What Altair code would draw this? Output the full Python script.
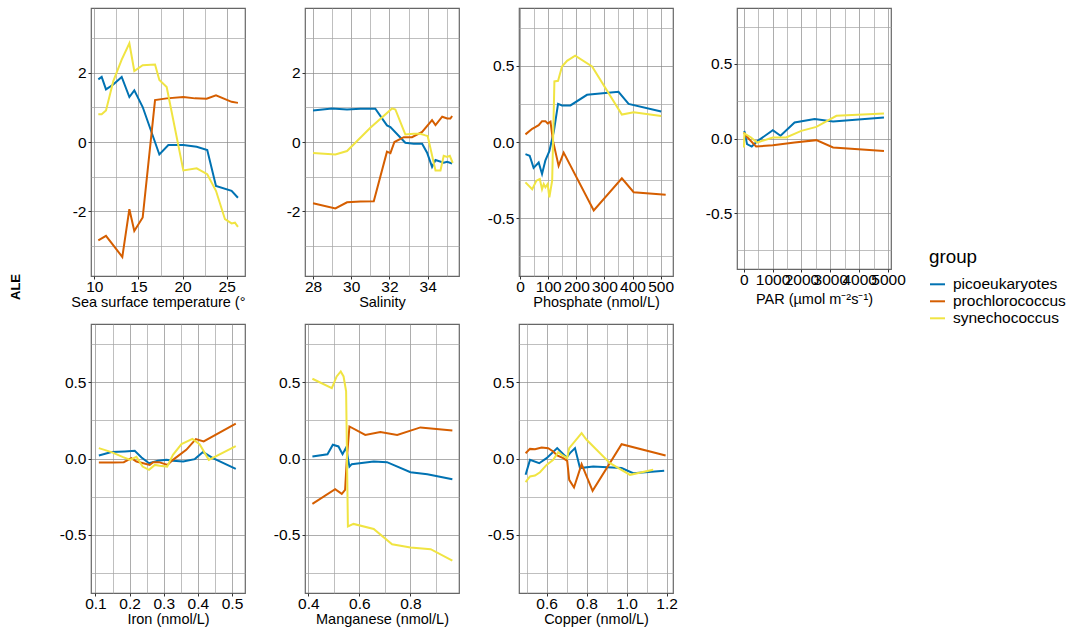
import altair as alt
import pandas as pd

GROUPS = ["picoeukaryotes", "prochlorococcus", "synechococcus"]
COLORS = ["#0072B2", "#D55E00", "#F0E442"]
FONT = "Liberation Sans"

# ---------------- data ----------------
# Sea surface temperature
sst_pico_x = [10.45, 10.83, 11.32, 12.15, 13.10, 13.97, 14.53, 15.48, 17.37, 18.39, 20.09, 21.60, 22.80, 23.79, 25.56, 26.28]
sst_pico_y = [1.81, 1.88, 1.52, 1.66, 1.88, 1.30, 1.49, 1.01, -0.36, -0.09, -0.09, -0.14, -0.23, -1.27, -1.41, -1.61]
sst_pro_x = [10.45, 11.32, 13.17, 13.97, 14.53, 15.48, 16.88, 18.20, 20.09, 21.41, 22.73, 23.79, 25.56, 26.28]
sst_pro_y = [-2.84, -2.71, -3.32, -1.94, -2.57, -2.18, 1.21, 1.26, 1.30, 1.26, 1.25, 1.35, 1.16, 1.13]
sst_syn_x = [10.45, 10.83, 11.32, 12.15, 13.10, 13.97, 14.53, 15.48, 16.88, 17.37, 18.20, 20.09, 21.60, 22.80, 23.79, 24.81, 25.56, 25.94, 26.28]
sst_syn_y = [0.80, 0.80, 0.91, 1.76, 2.38, 2.85, 2.05, 2.22, 2.24, 1.79, 1.59, -0.82, -0.76, -0.93, -1.41, -2.23, -2.35, -2.33, -2.45]

# Salinity
sal_pico_x = [28.0, 28.99, 29.78, 30.48, 31.26, 31.87, 32.05, 32.83, 33.27, 33.71, 33.97, 34.23, 34.41, 34.84, 35.02, 35.28]
sal_pico_y = [0.91, 0.97, 0.94, 0.96, 0.96, 0.48, 0.43, -0.02, -0.05, -0.05, -0.31, -0.72, -0.52, -0.60, -0.57, -0.62]
sal_pro_x = [28.0, 29.17, 29.78, 30.48, 31.18, 31.87, 32.05, 32.26, 32.75, 33.18, 33.71, 34.23, 34.41, 34.76, 35.02, 35.19, 35.28]
sal_pro_y = [-1.77, -1.92, -1.74, -1.72, -1.71, -0.28, -0.32, 0.00, 0.14, 0.14, 0.29, 0.63, 0.49, 0.73, 0.68, 0.68, 0.75]
sal_syn_x = [28.0, 29.17, 29.78, 31.0, 32.14, 32.31, 32.83, 33.27, 33.62, 33.88, 34.0, 34.41, 34.67, 34.84, 35.02, 35.16, 35.31]
sal_syn_y = [-0.32, -0.36, -0.26, 0.41, 0.97, 0.94, 0.22, 0.24, 0.24, 0.19, 0.17, -0.82, -0.82, -0.40, -0.43, -0.40, -0.60]

# Phosphate
pho_pico_x = [19, 34, 48, 66, 78, 90, 104, 120, 135, 149, 179, 238, 350, 386, 502]
pho_pico_y = [-0.08, -0.09, -0.17, -0.135, -0.21, -0.12, -0.06, 0.07, 0.25, 0.24, 0.24, 0.31, 0.33, 0.25, 0.20]
pho_pro_x = [19, 43, 54, 66, 78, 90, 98, 108, 117, 137, 155, 262, 362, 404, 518]
pho_pro_y = [0.05, 0.087, 0.098, 0.111, 0.137, 0.137, 0.122, 0.133, 0.007, -0.157, -0.07, -0.45, -0.239, -0.33, -0.346]
pho_syn_x = [19, 43, 58, 70, 78, 84, 90, 98, 104, 114, 122, 135, 149, 167, 196, 256, 362, 404, 502]
pho_syn_y = [-0.265, -0.31, -0.254, -0.243, -0.31, -0.276, -0.298, -0.276, -0.363, -0.254, 0.398, 0.402, 0.496, 0.533, 0.567, 0.496, 0.18, 0.196, 0.17]

# PAR
par_pico_x = [23, 116, 278, 487, 1009, 1276, 1763, 2459, 3097, 4860]
par_pico_y = [0.051, -0.038, -0.054, -0.016, 0.056, 0.018, 0.107, 0.13, 0.114, 0.141]
par_pro_x = [10, 81, 429, 1009, 1763, 2517, 3097, 4860]
par_pro_y = [0.04, 0.018, -0.054, -0.045, -0.027, -0.011, -0.06, -0.083]
par_syn_x = [10, 23, 255, 464, 1009, 1473, 1995, 2517, 3213, 4860]
par_syn_y = [-0.06, 0.034, 0.007, -0.027, 0.007, 0.007, 0.051, 0.078, 0.152, 0.168]

# Iron
fe_pico_x = [0.110, 0.147, 0.186, 0.215, 0.235, 0.257, 0.283, 0.308, 0.327, 0.357, 0.391, 0.415, 0.444, 0.511]
fe_pico_y = [0.02, 0.042, 0.046, 0.05, 0.007, -0.031, -0.015, -0.009, -0.015, -0.02, -0.004, 0.042, 0.002, -0.068]
fe_pro_x = [0.110, 0.152, 0.183, 0.205, 0.220, 0.240, 0.259, 0.269, 0.286, 0.311, 0.327, 0.366, 0.394, 0.417, 0.511]
fe_pro_y = [-0.026, -0.026, -0.024, 0.002, -0.02, -0.031, -0.042, -0.024, -0.024, -0.042, -0.009, 0.057, 0.127, 0.112, 0.228]
fe_syn_x = [0.110, 0.147, 0.181, 0.202, 0.220, 0.238, 0.257, 0.274, 0.288, 0.310, 0.327, 0.352, 0.384, 0.405, 0.432, 0.511]
fe_syn_y = [0.068, 0.042, 0.009, -0.009, 0.011, -0.053, -0.074, -0.042, -0.048, -0.053, 0.024, 0.094, 0.129, 0.094, -0.009, 0.081]

# Manganese
mn_pico_x = [0.416, 0.475, 0.496, 0.518, 0.534, 0.548, 0.555, 0.561, 0.570, 0.656, 0.708, 0.800, 0.866, 0.964]
mn_pico_y = [0.013, 0.028, 0.09, 0.079, 0.028, 0.072, 0.002, -0.053, -0.037, -0.02, -0.024, -0.09, -0.103, -0.136]
mn_pro_x = [0.416, 0.505, 0.531, 0.544, 0.551, 0.561, 0.623, 0.682, 0.748, 0.839, 0.964]
mn_pro_y = [-0.298, -0.201, -0.232, -0.206, 0.002, 0.21, 0.155, 0.173, 0.155, 0.204, 0.184]
mn_syn_x = [0.416, 0.492, 0.511, 0.527, 0.538, 0.548, 0.555, 0.577, 0.656, 0.728, 0.800, 0.879, 0.964]
mn_syn_y = [0.523, 0.462, 0.538, 0.571, 0.538, 0.44, -0.446, -0.429, -0.462, -0.562, -0.584, -0.595, -0.67]

# Copper
cu_pico_x = [0.495, 0.517, 0.563, 0.600, 0.653, 0.700, 0.717, 0.742, 0.767, 0.833, 0.975, 1.033, 1.188]
cu_pico_y = [-0.107, -0.009, -0.031, 0.002, 0.068, 0.007, 0.035, 0.068, -0.063, -0.053, -0.063, -0.096, -0.081]
cu_pro_x = [0.495, 0.517, 0.542, 0.575, 0.608, 0.633, 0.653, 0.683, 0.703, 0.713, 0.737, 0.775, 0.830, 0.975, 1.195]
cu_pro_y = [0.035, 0.063, 0.061, 0.072, 0.068, 0.046, 0.02, 0.002, -0.015, -0.14, -0.19, -0.037, -0.212, 0.094, 0.02]
cu_syn_x = [0.495, 0.517, 0.542, 0.567, 0.600, 0.633, 0.658, 0.680, 0.703, 0.713, 0.775, 0.800, 0.917, 1.017, 1.133]
cu_syn_y = [-0.155, -0.118, -0.112, -0.09, -0.042, -0.009, 0.042, 0.02, 0.002, 0.068, 0.166, 0.123, -0.031, -0.107, -0.074]

# axis titles and tick values
x_titles = ["Sea surface temperature (°", "Salinity", "Phosphate (nmol/L)",
            "PAR (µmol m⁻²s⁻¹)", "Iron (nmol/L)", "Manganese (nmol/L)", "Copper (nmol/L)"]
x_ticks = [
    [10, 12.5, 15, 17.5, 20, 22.5, 25],
    [28, 29, 30, 31, 32, 33, 34, 35],
    [0, 50, 100, 150, 200, 250, 300, 350, 400, 450, 500],
    [0, 500, 1000, 1500, 2000, 2500, 3000, 3500, 4000, 4500, 5000],
    [0.1, 0.15, 0.2, 0.25, 0.3, 0.35, 0.4, 0.45, 0.5],
    [0.4, 0.5, 0.6, 0.7, 0.8, 0.9],
    [0.5, 0.6, 0.7, 0.8, 0.9, 1.0, 1.1, 1.2],
]
x_major_step = [5, 2, 100, 1000, 0.1, 0.2, 0.2]
x_format = ["d", "d", "d", "d", ".1f", ".1f", ".1f"]
x_domains = [[9.62, 27.08], [27.58, 35.64], [-4, 544], [-232, 5104],
             [0.087, 0.538], [0.387, 0.99], [0.462, 1.232]]

y_ticks_big = [-3, -2, -1, 0, 1, 2, 3]
y_ticks_small = [-0.75, -0.5, -0.25, 0, 0.25, 0.5, 0.75]
y_domains = [[-3.87, 3.87], [-3.87, 3.87], [-0.88, 0.88], [-0.875, 0.875],
             [-0.882, 0.882], [-0.882, 0.882], [-0.882, 0.882]]
panel_heights = [268, 268, 268, 261, 269, 269, 269]
x_title_pad = [1, 1, 1, 5, 1, 1, 1]

series = [
    [(sst_pico_x, sst_pico_y), (sst_pro_x, sst_pro_y), (sst_syn_x, sst_syn_y)],
    [(sal_pico_x, sal_pico_y), (sal_pro_x, sal_pro_y), (sal_syn_x, sal_syn_y)],
    [(pho_pico_x, pho_pico_y), (pho_pro_x, pho_pro_y), (pho_syn_x, pho_syn_y)],
    [(par_pico_x, par_pico_y), (par_pro_x, par_pro_y), (par_syn_x, par_syn_y)],
    [(fe_pico_x, fe_pico_y), (fe_pro_x, fe_pro_y), (fe_syn_x, fe_syn_y)],
    [(mn_pico_x, mn_pico_y), (mn_pro_x, mn_pro_y), (mn_syn_x, mn_syn_y)],
    [(cu_pico_x, cu_pico_y), (cu_pro_x, cu_pro_y), (cu_syn_x, cu_syn_y)],
]


def major_test(step):
    return f"abs(datum.value/{step} - round(datum.value/{step})) < 1e-6"


def make_axis(values, step, fmt, title, label_pad=2, title_pad=3, **kw):
    t = major_test(step)
    return alt.Axis(
        values=values,
        title=title,
        labelExpr=f"({t}) ? replace(format(datum.value, '{fmt}'), '\u2212', '-') : ''",
        tickOpacity={"condition": {"test": t, "value": 1}, "value": 0},
        gridColor={"condition": {"test": t, "value": "#8a8a8a"}, "value": "#a4a4a4"},
        gridWidth=0.7,
        grid=True,
        domain=False,
        ticks=True,
        tickSize=3,
        tickColor="#333333",
        labelFlush=False,
        labelOverlap=False,
        labelFont=FONT,
        labelFontSize=15.5,
        labelColor="#000000",
        labelPadding=label_pad,
        titleFont=FONT,
        titleFontSize=14.5,
        titleFontWeight="normal",
        titleColor="#000000",
        titlePadding=title_pad,
        **kw,
    )


charts = []
for i in range(7):
    rows = []
    for g, (xs, ys) in zip(GROUPS, series[i]):
        for k, (xv, yv) in enumerate(zip(xs, ys)):
            rows.append({"x": xv, "y": yv, "group": g, "k": k})
    df = pd.DataFrame(rows)

    xkw = {}
    if i == 0:
        xkw = dict(titleAlign="right", titleX=154, titleAnchor="end")
    xaxis = make_axis(x_ticks[i], x_major_step[i], x_format[i], x_titles[i],
                      label_pad=0, title_pad=x_title_pad[i], **xkw)
    if i < 2:
        yaxis = make_axis(y_ticks_big, 2, "d", None, minExtent=32, maxExtent=32)
    else:
        yaxis = make_axis(y_ticks_small, 0.5, ".1f", None, minExtent=32, maxExtent=32)

    c = alt.Chart(df).mark_line(strokeWidth=2).encode(
        x=alt.X("x:Q", scale=alt.Scale(domain=x_domains[i], nice=False, zero=False), axis=xaxis),
        y=alt.Y("y:Q", scale=alt.Scale(domain=y_domains[i], nice=False, zero=False), axis=yaxis),
        color=alt.Color(
            "group:N",
            scale=alt.Scale(domain=GROUPS, range=COLORS),
            legend=alt.Legend(
                title="group",
                orient="none",
                legendX=838,
                legendY=240,
                symbolType="stroke",
                symbolSize=225,
                symbolStrokeWidth=2,
                titleFont=FONT,
                titleFontSize=18.8,
                titleFontWeight="normal",
                titleColor="#000000",
                titlePadding=9,
                labelFont=FONT,
                labelFontSize=15.5,
                labelColor="#000000",
                labelOffset=7,
                rowPadding=0,
                padding=0,
            ),
        ),
        order="k:Q",
    ).properties(width=154, height=panel_heights[i])
    charts.append(c)

chart = alt.concat(
    *charts,
    columns=4,
    spacing={"row": 13, "column": 26},
    title=alt.TitleParams(
        text="ALE", orient="left", anchor="middle", font=FONT, fontSize=13,
        fontWeight="bold", color="#000000", offset=35, dx=30,
    ),
).resolve_scale(
    x="independent", y="independent", color="shared"
).resolve_axis(
    x="independent", y="independent"
).properties(
    padding={"left": 10, "top": 7, "right": 0, "bottom": 2},
    background="#ffffff",
).configure_view(
    stroke="#666666", strokeWidth=1.2
)

chart.save("out.html", embed_options={"renderer": "svg", "actions": False})
